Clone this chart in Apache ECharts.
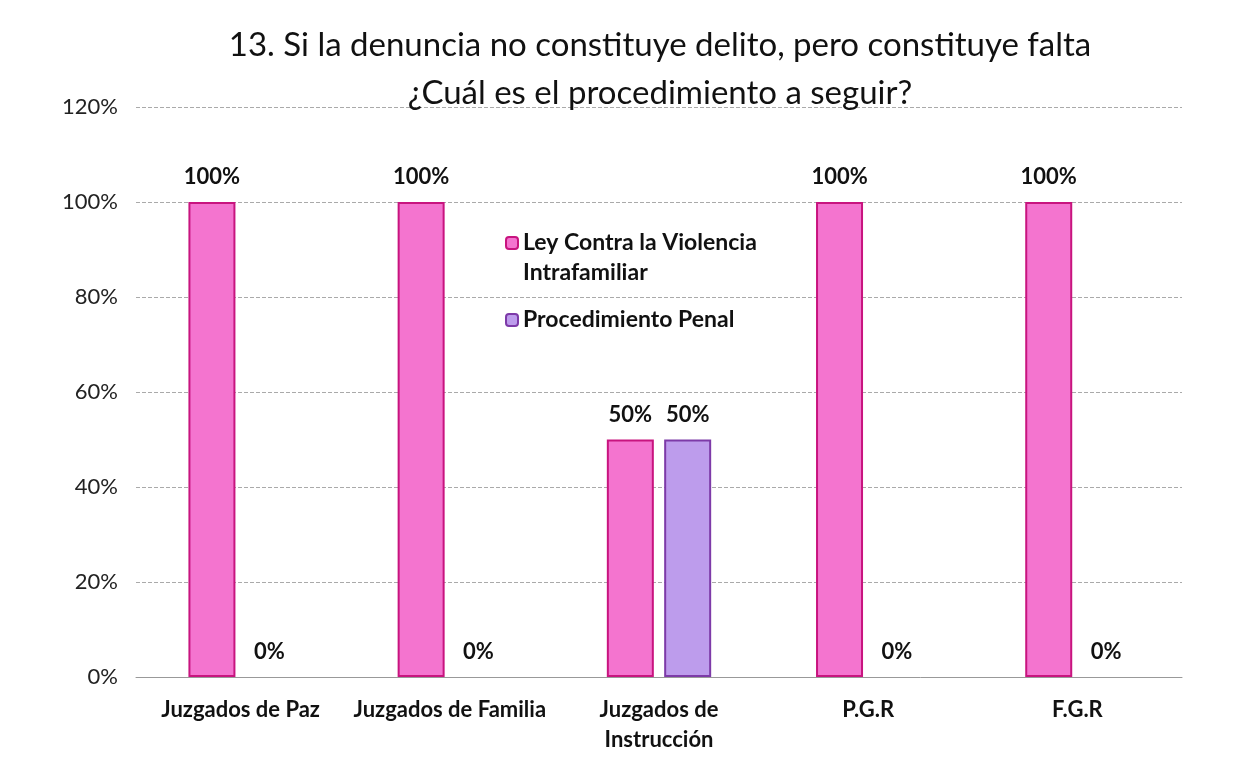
<!DOCTYPE html>
<html lang="es">
<head>
    <meta charset="UTF-8">
    <title>chart</title>
    <style>
        html, body, #chart {
            margin: 0;
            padding: 0;
            width: 100%;
            height: 100%;
            background: #fff;
        }
    </style>
</head>
<body>
    <div id="chart"></div>
    <script src="https://cdn.jsdelivr.net/npm/echarts@6/dist/echarts.min.js"></script>
    <script>
        var categories = ['Juzgados de Paz', 'Juzgados de Familia', 'Juzgados de\nInstrucción', 'P.G.R', 'F.G.R'];
        var leyValues = [100, 100, 50, 100, 100];
        var penalValues = [0, 0, 50, 0, 0];
        var seriesNames = ['Ley Contra la Violencia\nIntrafamiliar', 'Procedimiento Penal'];

        var font = 'Lato, "Open Sans", sans-serif';
        var chart = echarts.init(document.getElementById('chart'));

        var labelStyle = {
            show: true,
            position: 'top',
            distance: 14,
            formatter: '{c}%',
            fontFamily: font,
            fontWeight: 'bold',
            fontSize: 22,
            color: '#111'
        };

        // zero bars have no visible outline in the original
        function toData(values) {
            return values.map(function (v) {
                return v === 0 ? { value: v, itemStyle: { borderWidth: 0 } } : v;
            });
        }

        chart.setOption({
            backgroundColor: '#fff',
            title: {
                text: '13. Si la denuncia no constituye delito, pero constituye falta\n¿Cuál es el procedimiento a seguir?',
                left: 655,
                textAlign: 'center',
                top: 16,
                textStyle: {
                    fontFamily: font,
                    fontSize: 33,
                    fontWeight: 'normal',
                    color: '#111',
                    lineHeight: 48
                }
            },
            legend: {
                orient: 'vertical',
                left: 500,
                top: 193,
                itemWidth: 12,
                itemHeight: 12,
                itemGap: 17,
                // blank first line so the icon sits beside the first line of a wrapped name
                formatter: function (name) {
                    return name.indexOf('\n') >= 0 ? '\n' + name : name;
                },
                textStyle: {
                    fontFamily: font,
                    fontWeight: 'bold',
                    fontSize: 23,
                    color: '#111',
                    lineHeight: 30
                },
                data: seriesNames
            },
            grid: {
                left: 136,
                right: 58,
                top: 107,
                bottom: 80
            },
            xAxis: {
                type: 'category',
                data: categories,
                axisTick: { show: false },
                axisLine: { lineStyle: { color: '#999' } },
                axisLabel: {
                    interval: 0,
                    margin: 18,
                    fontFamily: font,
                    fontWeight: 'bold',
                    fontSize: 22,
                    color: '#111',
                    lineHeight: 30
                }
            },
            yAxis: {
                type: 'value',
                min: 0,
                max: 120,
                interval: 20,
                axisLabel: {
                    formatter: '{value}%',
                    margin: 18,
                    fontFamily: font,
                    fontSize: 22,
                    color: '#222'
                },
                splitLine: { lineStyle: { color: '#aaa', type: 'dashed' } }
            },
            series: [{
                name: seriesNames[0],
                type: 'bar',
                data: toData(leyValues),
                barWidth: 47,
                barGap: '22%',
                itemStyle: { color: '#f474cf', borderColor: '#c8147f', borderWidth: 2 },
                label: labelStyle
            }, {
                name: seriesNames[1],
                type: 'bar',
                data: toData(penalValues),
                barWidth: 47,
                itemStyle: { color: '#bd9cec', borderColor: '#7d3aa8', borderWidth: 2 },
                label: labelStyle
            }]
        });
    </script>
</body>
</html>
